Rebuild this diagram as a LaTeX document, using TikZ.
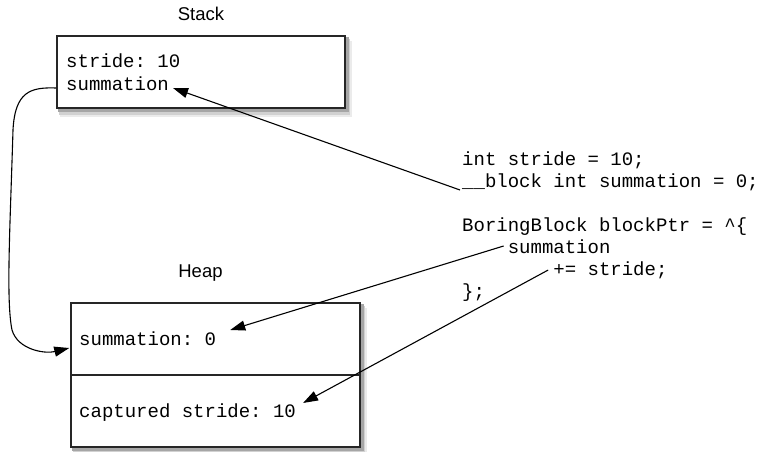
\documentclass[tikz,border=0pt]{standalone}
\usepackage{fontspec}
\setsansfont{Liberation Sans}
\setmonofont{Liberation Mono}
\usetikzlibrary{arrows.meta, calc, backgrounds}

\begin{document}
\begin{tikzpicture}[
    x=1pt, y=-1pt,
    mem_box/.style={
        rectangle,
        draw=black!85,
        fill=white,
        line width=1.5pt
    },
    mono_text/.style={
        anchor=base west,
        inner sep=0pt,
        font=\fontsize{19}{22}\selectfont\ttfamily
    },
    label_text/.style={
        anchor=base,
        inner sep=0pt,
        font=\fontsize{18.5}{22}\selectfont\sffamily
    },
    arrow/.style={line width=1.1pt, -{Triangle[length=15pt,width=10pt]}}
]
    \useasboundingbox (0,0) rectangle (758,452);

    % Stack
    \node[label_text] (stackLabel) at (201,21) {Stack};
    \node[mem_box, minimum width=288pt, minimum height=72pt] (stack) at (201,72) {};
    \node[mono_text] (stackStride) at (66,68) {stride: 10};
    \node[mono_text] (stackSum) at (66,90) {summation};

    % Heap
    \node[label_text] (heapLabel) at (200.5,277) {Heap};
    \node[mem_box, minimum width=289pt, minimum height=144pt] (heap) at (215.5,375) {};
    \draw[line width=1.5pt, draw=black!85] (heap.west) -- (heap.east);
    \node[mono_text] (heapSum) at (79,345) {summation: 0};
    \node[mono_text] (heapCap) at (79,417) {captured stride: 10};

    % soft shadows behind the boxes
    \begin{scope}[on background layer]
        \foreach \mem in {stack, heap} {
            \fill[black!8] ($(\mem.north west)+(4,6)$) rectangle ($(\mem.south east)+(6,8)$);
            \fill[black!18] ($(\mem.north west)+(3,4)$) rectangle ($(\mem.south east)+(4.5,6)$);
            \fill[black!35] ($(\mem.north west)+(2,2)$) rectangle ($(\mem.south east)+(3,3.5)$);
        }
    \end{scope}

    % Code
    \node[mono_text] (codeStride) at (462,165) {int stride = 10;};
    \node[mono_text] (codeBlock) at (462,187) {\_\_block int summation = 0;};
    \node[mono_text] (codePtr) at (462,231) {BoringBlock blockPtr = \textasciicircum\{};
    \node[mono_text] (codeSum) at (507.6,253) {summation};
    \node[mono_text] (codeAdd) at (553.2,275) {+= stride;};
    \node[mono_text] (codeEnd) at (462,297) {\};};

    % Arrows
    \draw[arrow] ($(codeBlock.base west)+(-2,3)$) -- ($(stackSum.base east)+(4,-2)$);
    \draw[arrow] ($(codeSum.base west)+(-4,-7)$) -- ($(heapSum.base east)+(14,-15)$);
    \draw[arrow] ($(codeAdd.base west)+(-5,-5)$) -- ($(heapCap.base east)+(7,-14)$);
    \draw[arrow] ($(stack.west |- stackSum.base)+(0,-2)$)
        .. controls (30,87) and (15,92) .. (13,130)
        .. controls (10,230) and (6,300) .. (12,330)
        .. controls (18,350) and (45,354) .. ($(heap.west |- heapSum.base)+(-1,3)$);

\end{tikzpicture}
\end{document}
